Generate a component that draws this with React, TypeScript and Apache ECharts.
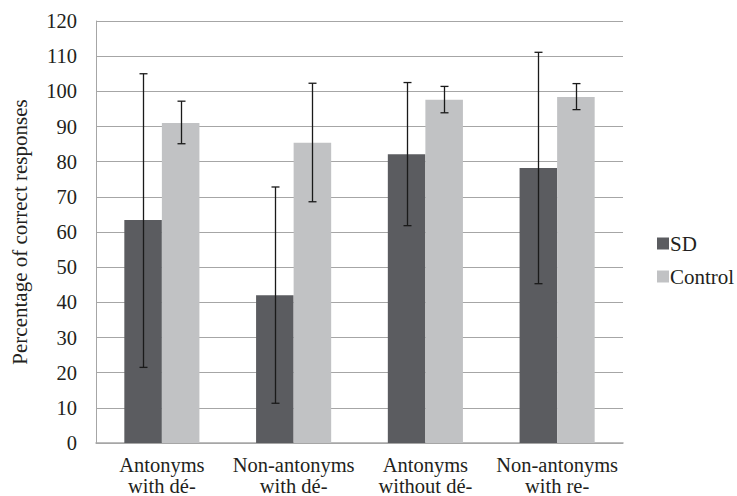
import React, { useEffect, useRef } from "react";
import * as echarts from "echarts";

const categories = ["Antonyms\nwith dé-", "Non-antonyms\nwith dé-", "Antonyms\nwithout dé-", "Non-antonyms\nwith re-"];
const sdValues = [63.4, 42.0, 82.1, 78.2];
const sdLow = [21.5, 11.3, 61.8, 45.3];
const sdHigh = [105.0, 72.8, 102.5, 111.1];
const controlValues = [91.0, 85.4, 97.6, 98.4];
const controlLow = [85.1, 68.6, 93.9, 94.8];
const controlHigh = [97.2, 102.3, 101.4, 102.2];
const yTicks = { min: 0, max: 120, interval: 10 };

const FONT = "Liberation Serif";
const TXT = "#231f20";
const BAR_FRACTION = 0.57;

function errorSeries(name: string, low: number[], high: number[], side: number) {
  return {
    type: "custom",
    name: name + " error",
    z: 10,
    silent: true,
    renderItem: (params: any, api: any) => {
      const idx = api.value(0);
      const lo = api.coord([idx, api.value(1)]);
      const hi = api.coord([idx, api.value(2)]);
      const band = api.size([1, 0])[0];
      const x = Math.round(lo[0] + side * band * BAR_FRACTION / 4) + 0.5;
      const cap = 4;
      const style = { stroke: "#1a1a1a", lineWidth: 1.3 };
      return {
        type: "group",
        children: [
          { type: "line", shape: { x1: x, y1: hi[1], x2: x, y2: lo[1] }, style },
          { type: "line", shape: { x1: x - cap, y1: hi[1], x2: x + cap, y2: hi[1] }, style },
          { type: "line", shape: { x1: x - cap, y1: lo[1], x2: x + cap, y2: lo[1] }, style },
        ],
      };
    },
    encode: { x: 0, y: [1, 2] },
    data: low.map((l, i) => [i, l, high[i]]),
  };
}

export default function App() {
  const ref = useRef<HTMLDivElement>(null);
  useEffect(() => {
    document.body.style.margin = "0";
    const chart = echarts.init(ref.current!, null, { renderer: "svg" });
    chart.setOption({
      animation: false,
      textStyle: { fontFamily: FONT },
      grid: { left: 96, right: 114, top: 21, bottom: 51 },
      legend: {
        orient: "vertical",
        left: 652,
        top: 228,
        itemWidth: 12,
        itemHeight: 12,
        itemGap: 12,
        icon: "rect",
        data: ["SD", "Control"],
        textStyle: { fontFamily: FONT, fontSize: 21, color: TXT, padding: [0, 0, 0, -4] },
      },
      xAxis: {
        type: "category",
        data: categories,
        axisLine: { show: true, lineStyle: { color: "#a6a6a6", width: 1.5 } },
        axisTick: { show: false },
        axisLabel: { fontFamily: FONT, fontSize: 20.5, color: TXT, lineHeight: 21, margin: 11, interval: 0 },
      },
      yAxis: {
        type: "value",
        min: yTicks.min,
        max: yTicks.max,
        interval: yTicks.interval,
        name: "Percentage of correct responses",
        nameLocation: "middle",
        nameGap: 66,
        nameTextStyle: { fontFamily: FONT, fontSize: 21, color: TXT },
        axisLine: { show: true, lineStyle: { color: "#a6a6a6", width: 1 } },
        axisTick: { show: false },
        axisLabel: { fontFamily: FONT, fontSize: 20.5, color: TXT, margin: 19 },
        splitLine: { lineStyle: { color: "#a6a6a6", width: 1 } },
      },
      series: [
        {
          type: "bar",
          name: "SD",
          data: sdValues,
          itemStyle: { color: "#5b5c60" },
          barGap: "0%",
          barCategoryGap: "43%",
        },
        {
          type: "bar",
          name: "Control",
          data: controlValues,
          itemStyle: { color: "#c1c2c4" },
          barGap: "0%",
          barCategoryGap: "43%",
        },
        errorSeries("SD", sdLow, sdHigh, -1),
        errorSeries("Control", controlLow, controlHigh, 1),
      ],
    });
    return () => chart.dispose();
  }, []);
  return <div ref={ref} style={{ width: 737, height: 496 }} />;
}
